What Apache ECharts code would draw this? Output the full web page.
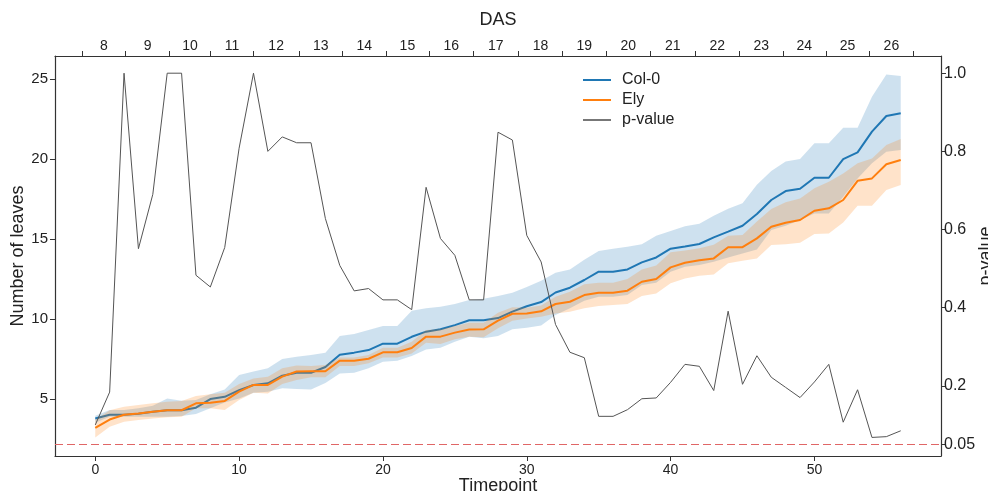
<!DOCTYPE html>
<html>
<head>
<meta charset="utf-8">
<script src="https://cdn.jsdelivr.net/npm/echarts@6/dist/echarts.min.js"></script>
<style>
  html, body { margin: 0; padding: 0; background: #ffffff; }
  #chart { width: 988px; height: 491px; }
</style>
</head>
<body>
<div id="chart"></div>
<script>
// Imaging timepoints
const timepoints = [0,1,2,3,4,5,6,7,8,9,10,11,12,13,14,15,16,17,18,19,20,21,22,23,24,25,26,27,28,29,30,31,32,33,34,35,36,37,38,39,40,41,42,43,44,45,46,47,48,49,50,51,52,53,54,55,56];

// Col-0: mean leaf number and confidence band
const col0Mean = [3.78,4.02,4.02,4.08,4.2,4.3,4.3,4.46,5.0,5.14,5.56,5.88,5.98,6.46,6.64,6.64,7.0,7.77,7.9,8.06,8.46,8.46,8.89,9.21,9.36,9.62,9.92,9.92,10.06,10.46,10.8,11.06,11.66,11.96,12.44,12.96,12.96,13.1,13.54,13.85,14.4,14.54,14.69,15.1,15.46,15.83,16.56,17.44,18.0,18.14,18.83,18.83,20.0,20.42,21.71,22.69,22.86];
const col0Upper = [3.96,4.31,4.31,4.42,4.58,5.04,4.9,4.94,5.3,5.6,6.5,6.72,6.92,7.5,7.65,7.75,7.9,8.94,9.06,9.31,9.56,9.56,10.52,10.67,10.77,10.94,11.19,11.27,11.44,11.65,12.0,12.4,12.9,13.1,13.7,14.25,14.4,14.52,14.67,15.2,15.5,15.8,15.96,16.45,16.9,17.23,18.4,19.25,19.85,20.0,20.98,20.98,21.96,21.96,23.9,25.29,25.19];
const col0Lower = [3.52,3.9,3.9,3.9,3.9,3.9,3.94,4.06,4.42,4.79,5.04,5.4,5.46,5.67,5.63,5.6,6.0,6.6,6.64,6.92,7.33,7.4,7.69,8.1,8.21,8.58,8.9,8.8,8.94,9.36,9.45,9.6,10.25,10.67,11.14,11.4,11.4,11.5,12.12,12.27,12.96,13.27,13.38,13.58,13.85,14.1,14.35,15.56,15.83,16.19,16.6,16.6,17.65,18.79,19.73,20.46,20.56];

// Ely: mean leaf number and confidence band
const elyMean = [3.2,3.72,4.02,4.1,4.2,4.3,4.3,4.73,4.77,4.88,5.46,5.88,5.88,6.4,6.72,6.74,6.74,7.4,7.4,7.52,7.92,7.92,8.19,8.9,8.9,9.15,9.34,9.36,9.9,10.33,10.35,10.48,10.94,11.08,11.5,11.65,11.65,11.77,12.33,12.5,13.23,13.52,13.67,13.79,14.49,14.49,15.04,15.77,16.02,16.19,16.77,16.92,17.44,18.64,18.79,19.67,19.94];
const elyUpper = [3.7,4.3,4.52,4.62,4.73,4.83,4.88,5.19,5.3,5.4,5.94,6.29,6.4,6.92,7.1,7.06,7.12,7.6,7.6,7.75,8.21,8.21,8.58,9.31,9.36,9.56,9.77,9.77,10.4,10.73,10.7,10.85,11.4,11.71,12.17,12.27,12.27,12.5,13.1,13.35,14.17,14.28,14.42,14.65,15.2,15.25,16.1,16.87,17.3,17.54,18.17,18.58,19.1,19.73,20.04,20.87,21.25];
const elyLower = [2.6,3.27,3.58,3.69,3.79,3.86,3.9,4.42,4.42,4.31,4.94,5.4,5.35,5.94,6.19,6.36,6.36,7.06,7.06,7.23,7.6,7.6,7.85,8.52,8.44,8.73,8.9,8.86,9.42,9.9,10.04,10.15,10.35,10.46,10.67,10.81,10.88,10.94,11.44,11.6,12.23,12.54,12.71,12.79,13.48,13.65,13.79,14.62,14.67,14.77,15.31,15.35,16.04,17.08,17.08,18.06,18.37];

// p-value of the genotype comparison at each timepoint
const pValue = [0.10,0.184,1.0,0.551,0.69,1.0,1.0,0.483,0.453,0.554,0.808,1.0,0.80,0.837,0.822,0.822,0.628,0.508,0.443,0.449,0.42,0.42,0.395,0.708,0.577,0.534,0.42,0.42,0.849,0.829,0.585,0.517,0.357,0.286,0.272,0.122,0.122,0.139,0.167,0.169,0.209,0.255,0.25,0.188,0.391,0.204,0.277,0.222,0.196,0.17,0.21,0.255,0.107,0.19,0.068,0.07,0.085];
const significance = 0.05;

// Axis ticks
const timeTicks = [0, 10, 20, 30, 40, 50];
const leafTicks = [5, 10, 15, 20, 25];
const pTicks = [0.05, 0.2, 0.4, 0.6, 0.8, 1.0];
// Day boundaries (in timepoint units) and the day labels between them
const dasBoundaries = [-0.9, 2.1, 5.17, 8.0, 11.0, 14.15, 17.2, 20.2, 23.2, 26.3, 29.4, 32.5, 35.5, 38.6, 41.7, 44.8, 47.8, 50.8, 53.8, 56.9];
const dasLabels = ['8','9','10','11','12','13','14','15','16','17','18','19','20','21','22','23','24','25','26'];

const dasCenters = dasLabels.map((_, i) => (dasBoundaries[i] + dasBoundaries[i + 1]) / 2);

const pairs = ys => timepoints.map((t, i) => [t, ys[i]]);

const BLUE = '#1f77b4';
const ORANGE = '#ff7f0e';
const PGREY = '#555555';
const FONT = 'Liberation Sans, Arial, sans-serif';
const TEXT = '#222222';
const SPINE = { show: true, onZero: false, lineStyle: { color: '#333333', width: 1.2 } };
const TICK = { show: true, inside: false, length: 5, lineStyle: { color: '#333333', width: 1 } };
const NAME_STYLE = { fontSize: 18, color: TEXT, fontFamily: FONT };

// Shaded band between a lower and an upper curve, drawn as one polygon
function bandSeries(name, lower, upper, fill, z) {
  return {
    name, type: 'custom', silent: true, z,
    data: timepoints.map((t, i) => [t, lower[i], upper[i]]),
    encode: { x: 0, y: [1, 2] },
    clip: true,
    renderItem: (params, api) => {
      if (params.dataIndex !== 0) return null;
      const top = timepoints.map((t, i) => api.coord([t, upper[i]]));
      const bottom = timepoints.map((t, i) => api.coord([t, lower[i]])).reverse();
      return {
        type: 'polygon',
        shape: { points: top.concat(bottom) },
        style: { fill, stroke: null }
      };
    }
  };
}

const chart = echarts.init(document.getElementById('chart'), null, { renderer: 'canvas' });

chart.setOption({
  animation: false,
  backgroundColor: '#ffffff',
  textStyle: { fontFamily: FONT },
  grid: { left: 55, right: 47, top: 56, bottom: 35, containLabel: false, outerBoundsMode: 'none' },
  legend: {
    data: [
      { name: 'Col-0', icon: 'rect', itemStyle: { color: BLUE } },
      { name: 'Ely', icon: 'rect', itemStyle: { color: ORANGE } },
      { name: 'p-value', icon: 'rect', itemStyle: { color: '#777777' } }
    ],
    orient: 'vertical',
    left: 578,
    top: 67,
    itemWidth: 28,
    itemHeight: 2,
    itemGap: 4,
    textStyle: { fontSize: 16, color: TEXT, fontFamily: FONT, padding: [0, 0, 0, 6], lineHeight: 15 }
  },
  xAxis: [
    {
      type: 'value', position: 'bottom', min: -2.8, max: 58.8,
      name: 'Timepoint', nameLocation: 'middle', nameGap: 21, nameMoveOverlap: false,
      nameTextStyle: NAME_STYLE,
      axisLine: SPINE, splitLine: { show: false },
      axisTick: Object.assign({ customValues: timeTicks }, TICK),
      axisLabel: { customValues: timeTicks, fontSize: 14, color: TEXT, margin: 7, fontFamily: FONT }
    },
    {
      type: 'value', position: 'top', min: -2.8, max: 58.8,
      name: 'DAS', nameLocation: 'middle', nameGap: 27, nameMoveOverlap: false,
      nameTextStyle: NAME_STYLE,
      axisLine: SPINE, splitLine: { show: false },
      axisTick: Object.assign({ customValues: dasBoundaries }, TICK),
      axisLabel: {
        customValues: dasCenters, fontSize: 14, color: TEXT, margin: 3, fontFamily: FONT,
        formatter: v => {
          const i = dasCenters.findIndex(c => Math.abs(c - v) < 1e-6);
          return i >= 0 ? dasLabels[i] : '';
        }
      }
    }
  ],
  yAxis: [
    {
      type: 'value', position: 'left', min: 1.44, max: 26.44,
      name: 'Number of leaves', nameLocation: 'middle', nameGap: 28, nameRotate: 90, nameMoveOverlap: false,
      nameTextStyle: NAME_STYLE,
      axisLine: SPINE, splitLine: { show: false },
      axisTick: Object.assign({ customValues: leafTicks }, TICK),
      axisLabel: { customValues: leafTicks, fontSize: 15, color: TEXT, margin: 7, fontFamily: FONT }
    },
    {
      type: 'value', position: 'right', min: 0.0205, max: 1.044,
      name: 'p-value', nameLocation: 'middle', nameGap: 36, nameRotate: 90, nameMoveOverlap: false,
      nameTextStyle: NAME_STYLE,
      axisLine: SPINE, splitLine: { show: false },
      axisTick: Object.assign({ customValues: pTicks }, TICK),
      axisLabel: {
        customValues: pTicks, fontSize: 16, color: TEXT, margin: 3, fontFamily: FONT,
        formatter: v => (Math.abs(v - 0.05) < 1e-9 ? '0.05' : v.toFixed(1))
      }
    }
  ],
  series: [
    bandSeries('col0-band', col0Lower, col0Upper, 'rgba(31,119,180,0.22)', 1),
    {
      name: 'Col-0', type: 'line', data: pairs(col0Mean), symbol: 'none',
      itemStyle: { color: BLUE }, lineStyle: { color: BLUE, width: 2 }, z: 2
    },
    bandSeries('ely-band', elyLower, elyUpper, 'rgba(255,127,14,0.22)', 3),
    {
      name: 'Ely', type: 'line', data: pairs(elyMean), symbol: 'none',
      itemStyle: { color: ORANGE }, lineStyle: { color: ORANGE, width: 2 }, z: 4
    },
    {
      name: 'p-value', type: 'line', xAxisIndex: 0, yAxisIndex: 1, data: pairs(pValue),
      symbol: 'none', itemStyle: { color: PGREY }, lineStyle: { color: PGREY, width: 1 }, z: 5,
      markLine: {
        silent: true, symbol: 'none', label: { show: false },
        lineStyle: { color: '#e06666', type: [8, 4], width: 1.2 },
        data: [{ yAxis: significance }]
      }
    }
  ]
});
</script>
</body>
</html>
